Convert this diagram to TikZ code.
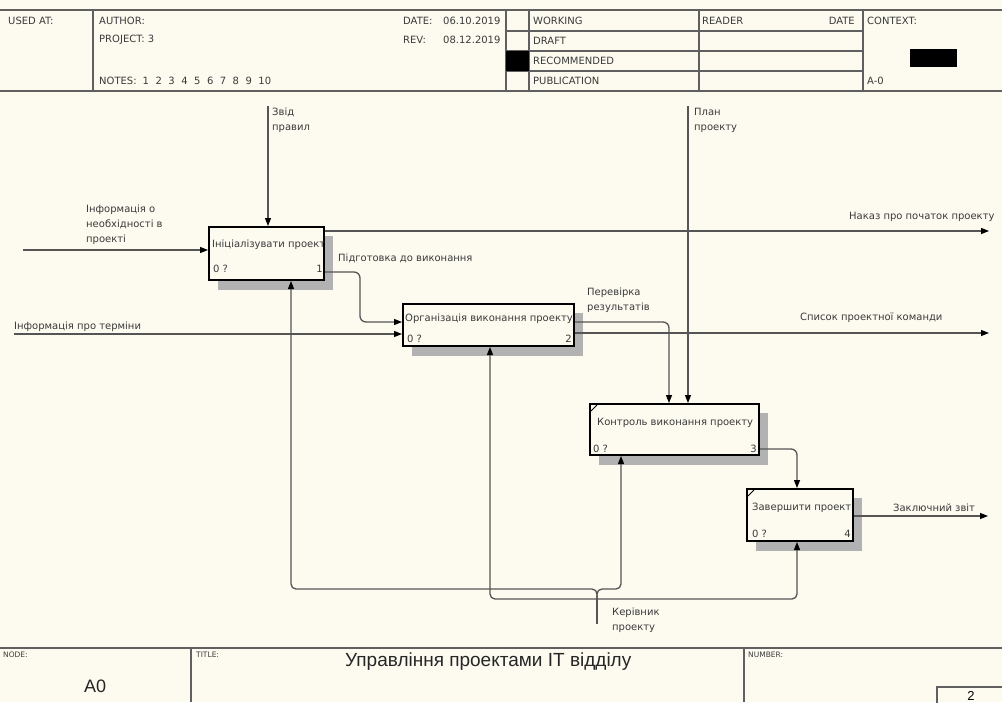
\documentclass[tikz,border=0pt]{standalone}
\usepackage{fontspec}
\setmainfont{DejaVu Sans}
\newfontfamily\titlefont{Liberation Sans}
\usetikzlibrary{arrows.meta,calc}

\definecolor{paper}{HTML}{FDFAF0}
\definecolor{ink}{HTML}{3A3A3A}
\definecolor{wirec}{HTML}{555555}
\definecolor{rulec}{HTML}{606060}
\definecolor{shade}{HTML}{B2B2B2}

\tikzset{
  txt/.style={font=\fontsize{10}{15}\selectfont, text=ink, inner sep=0pt, anchor=west, align=left},
  tiny/.style={font=\fontsize{7.5}{9}\selectfont, text=ink, inner sep=0pt, anchor=west},
  big/.style={font=\titlefont\fontsize{19}{22}\selectfont, text=black!85, inner sep=0pt, anchor=west},
  frame/.style={draw=rulec, line width=1.2pt},
  actbox/.style={draw=black, line width=2pt, fill=paper, anchor=north west, inner sep=0pt},
  shadowbox/.style={fill=shade},
  plain/.style={draw=wirec, line width=1.3pt},
  conn/.style={plain, -{Triangle[length=8pt,width=6pt,color=black]}},
  elbow/.style={rounded corners=6pt},
  corner/.style={draw=black, line width=1pt},
}

\begin{document}
\begin{tikzpicture}[x=1pt,y=-1pt]
  % sheet
  \fill[paper] (0,0) rectangle (1002,702);
  \useasboundingbox (0,0) rectangle (1002,702);
  \clip (0,0) rectangle (1002,702);

  % ---------- header frame ----------
  \draw[frame] (0,10) -- (1002,10);
  \draw[frame] (0,91) -- (1002,91);
  \foreach \x in {93,506,529,699,863} \draw[frame] (\x,10) -- (\x,91);
  \foreach \y in {31,51,71} \draw[frame] (506,\y) -- (863,\y);
  \fill[black] (506,51) rectangle (529,71);
  \fill[black] (910,49) rectangle (957,67);

  \node[txt] (usedat)  at (8,21)   {USED AT:};
  \node[txt] (author)  at (99,21)  {AUTHOR:};
  \node[txt] (project) at (99,40)  {PROJECT: 3};
  \node[txt] (notes)   at (99,81)  {NOTES:\hspace{6pt}1\hspace{6.5pt}2\hspace{6.5pt}3\hspace{6.5pt}4\hspace{6.5pt}5\hspace{6.5pt}6\hspace{6.5pt}7\hspace{6.5pt}8\hspace{6.5pt}9\hspace{6.5pt}10};
  \node[txt] (datek)   at (403,21) {DATE:};
  \node[txt] (datev)   at (443,21) {06.10.2019};
  \node[txt] (revk)    at (403,40) {REV:};
  \node[txt] (revv)    at (443,40) {08.12.2019};
  \node[txt] (working) at (533,21) {WORKING};
  \node[txt] (draft)   at (533,41) {DRAFT};
  \node[txt] (recom)   at (533,61) {RECOMMENDED};
  \node[txt] (publ)    at (533,81) {PUBLICATION};
  \node[txt] (reader)  at (702,21) {READER};
  \node[txt, anchor=east] (rdate) at (855,21) {DATE};
  \node[txt] (context) at (867,21) {CONTEXT:};
  \node[txt] (aminus)  at (867,81) {A-0};

  % ---------- footer frame ----------
  \draw[frame] (0,648) -- (1002,648);
  \draw[frame] (191,648) -- (191,702);
  \draw[frame] (744,648) -- (744,702);
  \draw[frame] (937,710) -- (937,687) -- (1010,687);
  \node[tiny] (nodek)   at (3,655)   {NODE:};
  \node[tiny] (titlek)  at (196,655) {TITLE:};
  \node[tiny] (numberk) at (748,655) {NUMBER:};
  \node[big] (title) at (345,662) {Управління проектами IT відділу};
  \node[big, font=\titlefont\fontsize{18}{20}\selectfont] (nodev) at (84,686) {A0};
  \node[font=\titlefont\fontsize{13}{15}\selectfont, inner sep=0pt, anchor=base] (numv) at (971,700) {2};

  % ---------- shadows ----------
  \fill[shadowbox] (218,236) rectangle (333,290);
  \fill[shadowbox] (412,313) rectangle (583,356);
  \fill[shadowbox] (599,413) rectangle (768,465);
  \fill[shadowbox] (756,498) rectangle (862,551);

  % ---------- activity boxes ----------
  \node[actbox, minimum width=115pt, minimum height=53pt] (b1) at (208,226) {};
  \node[actbox, minimum width=171pt, minimum height=42pt] (b2) at (402,303) {};
  \node[actbox, minimum width=169pt, minimum height=51pt] (b3) at (589,403) {};
  \node[actbox, minimum width=106pt, minimum height=52pt] (b4) at (746,488) {};

  \draw[corner] ($(b3.north west)+(2,8)$) -- ($(b3.north west)+(8,2)$);
  \draw[corner] ($(b4.north west)+(2,8)$) -- ($(b4.north west)+(8,2)$);

  \node[txt] (b1t) at (212,245) {Ініціалізувати проект};
  \node[txt] (b1c) at (213,269) {0 ?};
  \node[txt, anchor=east] (b1n) at (323,269) {1};
  \node[txt] (b2t) at (405,319) {Організація виконання проекту};
  \node[txt] (b2c) at (407,339) {0 ?};
  \node[txt, anchor=east] (b2n) at (572,339) {2};
  \node[txt] (b3t) at (597,423) {Контроль виконання проекту};
  \node[txt] (b3c) at (593,449) {0 ?};
  \node[txt, anchor=east] (b3n) at (757,449) {3};
  \node[txt] (b4t) at (752,508) {Завершити проект};
  \node[txt] (b4c) at (752,534) {0 ?};
  \node[txt, anchor=east] (b4n) at (851,534) {4};

  % ---------- connector end points ----------
  \coordinate (zv)   at (268,106);
  \coordinate (pl)   at (688,106);
  \coordinate (in1)  at (23,250);
  \coordinate (in2)  at (14,334);
  \coordinate (out1) at (989,231);
  \coordinate (out2) at (989,333);
  \coordinate (out4) at (988,516);
  \coordinate (p12)  at (360,272);
  \coordinate (q12)  at (360,322);
  \coordinate (p23)  at (669,322);
  \coordinate (p34)  at (797,449);
  \coordinate (ks)   at (597,624);
  \coordinate (kj)   at (597,599);
  \coordinate (m1)   at (291,589);
  \coordinate (m3)   at (621,589);
  \coordinate (m2)   at (490,599);
  \coordinate (m4)   at (797,599);

  % controls
  \draw[conn] (zv) -- (zv |- b1.north);
  \draw[conn] (pl) -- (pl |- b3.north);
  % inputs
  \draw[conn] (in1) -- (in1 -| b1.west);
  \draw[conn] (in2) -- (in2 -| b2.west);
  % outputs
  \draw[conn] (out1 -| b1.east) -- (out1);
  \draw[conn] (out2 -| b2.east) -- (out2);
  \draw[conn] (out4 -| b4.east) -- (out4);
  \draw[conn, elbow] (p12 -| b1.east) -- (p12) -- (q12) -- (q12 -| b2.west);
  \draw[conn, elbow] (p23 -| b2.east) -- (p23) -- (p23 |- b3.north);
  \draw[conn, elbow] (p34 -| b3.east) -- (p34) -- (p34 |- b4.north);
  % mechanism tree
  \draw[plain] (ks) -- (kj);
  \draw[conn, rounded corners=5pt] (kj) |- (m1) -- (m1 |- b1.south);
  \draw[conn, rounded corners=5pt] (kj) |- (m3) -- (m3 |- b3.south);
  \draw[conn, rounded corners=5pt] (kj) -- (m2) -- (m2 |- b2.south);
  \draw[conn, rounded corners=5pt] (kj) -- (m4) -- (m4 |- b4.south);

  % ---------- arrow labels ----------
  \node[txt] (lzv)   at (272,120) {Звід\\правил};
  \node[txt] (lpl)   at (694,120) {План\\проекту};
  \node[txt] (lin1)  at (86,225)  {Інформація о\\необхідності в\\проекті};
  \node[txt] (lin2)  at (14,327)  {Інформація про терміни};
  \node[txt] (lout1) at (849,217) {Наказ про початок проекту};
  \node[txt] (l12)   at (338,258) {Підготовка до виконання};
  \node[txt] (l23)   at (587,300) {Перевірка\\результатів};
  \node[txt] (lout2) at (800,318) {Список проектної команди};
  \node[txt] (lout4) at (893,508) {Заключний звіт};
  \node[txt] (lmech) at (612,620) {Керівник\\проекту};
\end{tikzpicture}
\end{document}
